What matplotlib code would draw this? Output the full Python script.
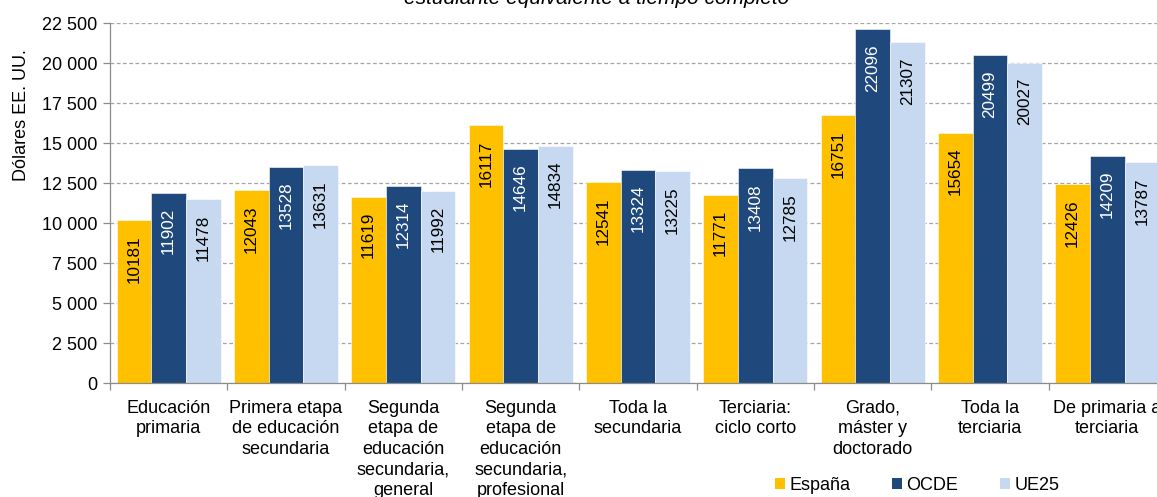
import numpy as np
import matplotlib
matplotlib.use("Agg")
import matplotlib.pyplot as plt
from matplotlib.patches import Patch
from matplotlib.ticker import FuncFormatter

plt.rcParams['font.family'] = ['Liberation Sans', 'DejaVu Sans']

categorias = [
    "Educación\nprimaria",
    "Primera etapa\nde educación\nsecundaria",
    "Segunda\netapa de\neducación\nsecundaria,\ngeneral",
    "Segunda\netapa de\neducación\nsecundaria,\nprofesional",
    "Toda la\nsecundaria",
    "Terciaria:\nciclo corto",
    "Grado,\nmáster y\ndoctorado",
    "Toda la\nterciaria",
    "De primaria a\nterciaria",
]
espana = [10181, 12043, 11619, 16117, 12541, 11771, 16751, 15654, 12426]
ocde = [11902, 13528, 12314, 14646, 13324, 13408, 22096, 20499, 14209]
ue25 = [11478, 13631, 11992, 14834, 13225, 12785, 21307, 20027, 13787]

series = [("España", espana, "#FFC000", "black"),
          ("OCDE", ocde, "#1F497D", "white"),
          ("UE25", ue25, "#C6D9F1", "black")]

W, H = 1157, 497
fig = plt.figure(figsize=(W / 100, H / 100), dpi=100)
# plot area runs past the right edge of the canvas
ax = fig.add_axes([110 / W, (H - 383) / H, 1056 / W, 360 / H])

x = np.arange(len(categorias))
bw = 0.296
for i, (nombre, vals, color, tcolor) in enumerate(series):
    pos = x + (i - 1) * bw
    ax.bar(pos, vals, width=bw, color=color, edgecolor='white', linewidth=0.4, zorder=2)
    for px, v in zip(pos, vals):
        ax.annotate(str(v), (px, v), xytext=(0, -15), textcoords='offset pixels',
                    rotation=90, ha='center', va='top', fontsize=12.3,
                    color=tcolor, zorder=3)

ax.set_xlim(-0.5, len(categorias) - 0.5)
ax.set_ylim(0, 22500)
ax.set_yticks(np.arange(0, 22501, 2500))
ax.yaxis.set_major_formatter(FuncFormatter(lambda v, p: f"{int(v):,}".replace(",", " ")))
ax.yaxis.grid(True, linestyle=(0, (3, 2)), color='#A6A6A6', linewidth=0.9, zorder=0)
ax.set_axisbelow(True)

ax.set_xticks(x)
ax.set_xticklabels(categorias, fontsize=13, linespacing=1.27)
ax.set_xticks(np.arange(-0.5, len(categorias)), minor=True)
ax.tick_params(axis='x', which='major', length=0, pad=12)
ax.tick_params(axis='x', which='minor', length=5, color='#8C8C8C', width=0.9)
ax.tick_params(axis='y', length=5, color='#8C8C8C', width=0.9, labelsize=13, pad=4)

for s in ['top', 'right']:
    ax.spines[s].set_visible(False)
for s in ['left', 'bottom']:
    ax.spines[s].set_color('#8C8C8C')
    ax.spines[s].set_linewidth(0.9)

fig.text(21 / W, 1 - 115 / H, "Dólares EE. UU.", rotation=90, ha='center', va='center',
         fontsize=13)
fig.text(597 / W, 1 - 3.5 / H, "estudiante equivalente a tiempo completo",
         ha='center', va='baseline', fontsize=15, style='italic')

handles = [Patch(facecolor=c, edgecolor='none') for _, _, c, _ in series]
fig.legend(handles, [n for n, _, _, _ in series], loc='center left',
           bbox_to_anchor=(775 / W, 1 - 485 / H), ncol=3, frameon=False,
           fontsize=13, handlelength=0.55, handleheight=0.55, handletextpad=0.25,
           columnspacing=2.3, borderaxespad=0, borderpad=0)

fig.savefig("out.png", dpi=100)
